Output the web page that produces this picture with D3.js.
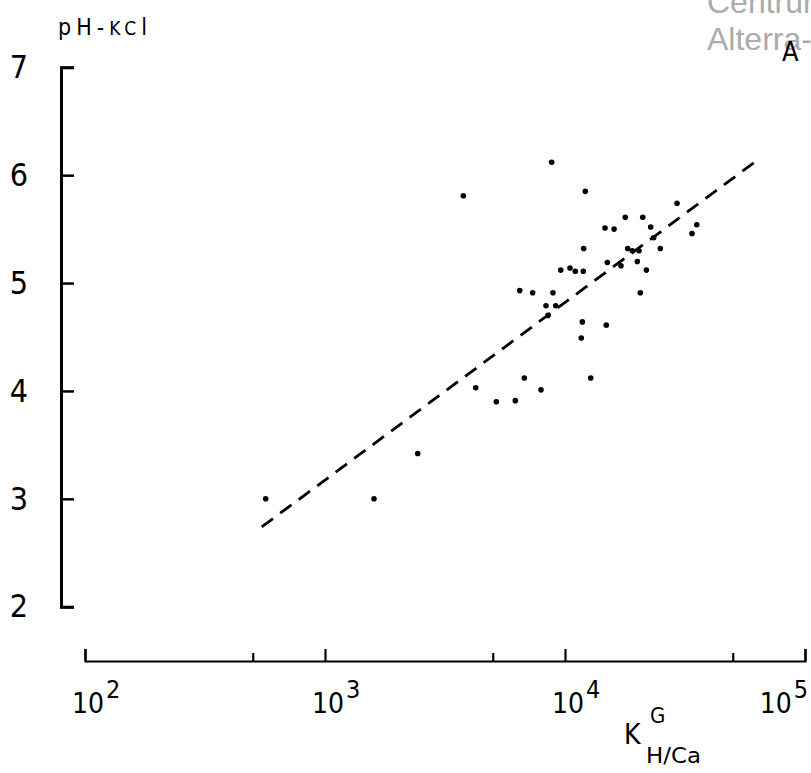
<!DOCTYPE html>
<html>
<head>
<meta charset="utf-8">
<script src="https://cdn.jsdelivr.net/npm/d3@7"></script>
<style>
    body { margin: 0; background: #fff; }
    svg { display: block; }
</style>
</head>
<body>
<svg id="chart" width="811" height="773"></svg>
<script>
// K(G) H/Ca values
var kValues = [8800, 3770, 12150, 29290, 17830, 21080, 14680, 16010, 22750, 35390,
    33820, 23420, 11960, 18250, 19070, 20340, 24950, 15010, 17110, 20010,
    21820, 9600, 10490, 11040, 11920, 6475, 7335, 8913, 8333, 9147,
    8495, 20600, 11810, 11690, 14860, 6767, 12800, 4246, 7943, 5173,
    6207, 2434, 566, 1600];
// pH-KCl values, same order
var phValues = [6.12, 5.81, 5.85, 5.74, 5.61, 5.61, 5.51, 5.50, 5.52, 5.54,
    5.46, 5.42, 5.32, 5.32, 5.30, 5.30, 5.32, 5.19, 5.16, 5.20,
    5.12, 5.12, 5.14, 5.11, 5.11, 4.93, 4.91, 4.91, 4.79, 4.79,
    4.70, 4.91, 4.64, 4.49, 4.61, 4.12, 4.12, 4.03, 4.01, 3.90,
    3.91, 3.42, 3.00, 3.00];

// dashed regression line, two ends
var fitK = [545, 62500];
var fitPh = [2.74, 6.13];

var yTicks = [2, 3, 4, 5, 6, 7];
var xMajor = [1e2, 1e3, 1e4, 1e5];
var xMinor = [5e2, 5e3, 5e4];

var font = "'DejaVu Sans Condensed', 'Liberation Sans Narrow', sans-serif";

var svg = d3.select("#chart");

const x = d3.scaleLog()
    .domain([1e2, 1e5])
    .range([85, 805]);

const y = d3.scaleLinear()
    .domain([2, 7])
    .range([606.7, 67.3]);

/** watermark in the corner */
var wm = svg.append("g")
    .attr("fill", "#ababab")
    .style("font-family", "Arimo, 'Liberation Sans', Arial, sans-serif")
    .style("font-size", "32px");
wm.append("text").attr("x", 707).attr("y", 13).text("Centrum");
wm.append("text").attr("x", 707).attr("y", 50).text("Alterra-");

/** Y axis, ticks pointing inward */
var gy = svg.append("g")
    .attr("transform", "translate(61,0)")
    .call(d3.axisLeft(y)
        .tickValues(yTicks)
        .tickSize(-13)
        .tickSizeOuter(-13)
        .tickPadding(33)
        .tickFormat(d3.format("d")));
gy.select(".domain").attr("stroke", "#000").attr("stroke-width", 3).attr("fill", "none");
gy.selectAll(".tick line").attr("stroke", "#000").attr("stroke-width", 2.5);
gy.selectAll(".tick text")
    .attr("fill", "#000")
    .style("font-family", font)
    .style("font-size", "32px");

/** X axis */
var allTicks = xMajor.concat(xMinor).sort(function(a, b) { return a - b; });
var gx = svg.append("g")
    .attr("transform", "translate(0,661)")
    .call(d3.axisBottom(x)
        .tickValues(allTicks)
        .tickSize(-12)
        .tickSizeOuter(-12)
        .tickFormat(""));
gx.select(".domain").attr("stroke", "#000").attr("stroke-width", 2.2).attr("fill", "none");
gx.selectAll(".tick line")
    .attr("stroke", "#000")
    .attr("stroke-width", 2.2)
    .attr("y2", function(d) { return xMajor.indexOf(d) >= 0 ? -12 : -8; });

// decade labels 10^n
var xl = svg.append("g")
    .attr("fill", "#000")
    .style("font-family", font);
xMajor.forEach(function(v) {
    var t = xl.append("text")
        .attr("x", x(v) - 13)
        .attr("y", 713)
        .style("font-size", "28px");
    t.append("tspan").text("10");
    t.append("tspan")
        .attr("dx", 2)
        .attr("dy", -15)
        .style("font-size", "25px")
        .text(String(Math.round(Math.log10(v))));
    var bb = t.node().getBBox();
    if (bb.x + bb.width > 808) {
        t.attr("x", x(v) - 13 - (bb.x + bb.width - 808));
    }
});

/** axis titles */
var ty = svg.append("text")
    .attr("x", 58)
    .attr("y", 35)
    .attr("fill", "#000")
    .attr("textLength", 89)
    .attr("lengthAdjust", "spacing")
    .style("font-family", font)
    .style("font-size", "23px");
ty.append("tspan").text("pH-");
ty.append("tspan").style("font-size", "19px").text("KC");
ty.append("tspan").text("l");

var tx = svg.append("g")
    .attr("fill", "#000")
    .style("font-family", font);
tx.append("text").attr("x", 624).attr("y", 744).style("font-size", "28px").text("K");
tx.append("text").attr("x", 650).attr("y", 723).style("font-size", "22px").text("G");
tx.append("text").attr("x", 646).attr("y", 763)
    .attr("textLength", 55).attr("lengthAdjust", "spacingAndGlyphs")
    .style("font-size", "22px").text("H/Ca");

// panel letter
svg.append("text")
    .attr("x", 782)
    .attr("y", 61)
    .attr("fill", "#000")
    .style("font-family", font)
    .style("font-size", "27px")
    .text("A");

/** regression line */
var fit = d3.zip(fitK, fitPh);
svg.append("path")
    .datum(fit)
    .attr("fill", "none")
    .attr("stroke", "#000")
    .attr("stroke-width", 2.8)
    .attr("stroke-dasharray", "14,9")
    .attr("d", d3.line()
        .x(function(d) { return x(d[0]); })
        .y(function(d) { return y(d[1]); }));

/** points */
var pts = d3.zip(kValues, phValues);
svg.selectAll(".pt")
    .data(pts)
    .join("circle")
    .attr("class", "pt")
    .attr("cx", function(d) { return x(d[0]); })
    .attr("cy", function(d) { return y(d[1]); })
    .attr("r", 2.8)
    .attr("fill", "#000");
</script>
</body>
</html>
